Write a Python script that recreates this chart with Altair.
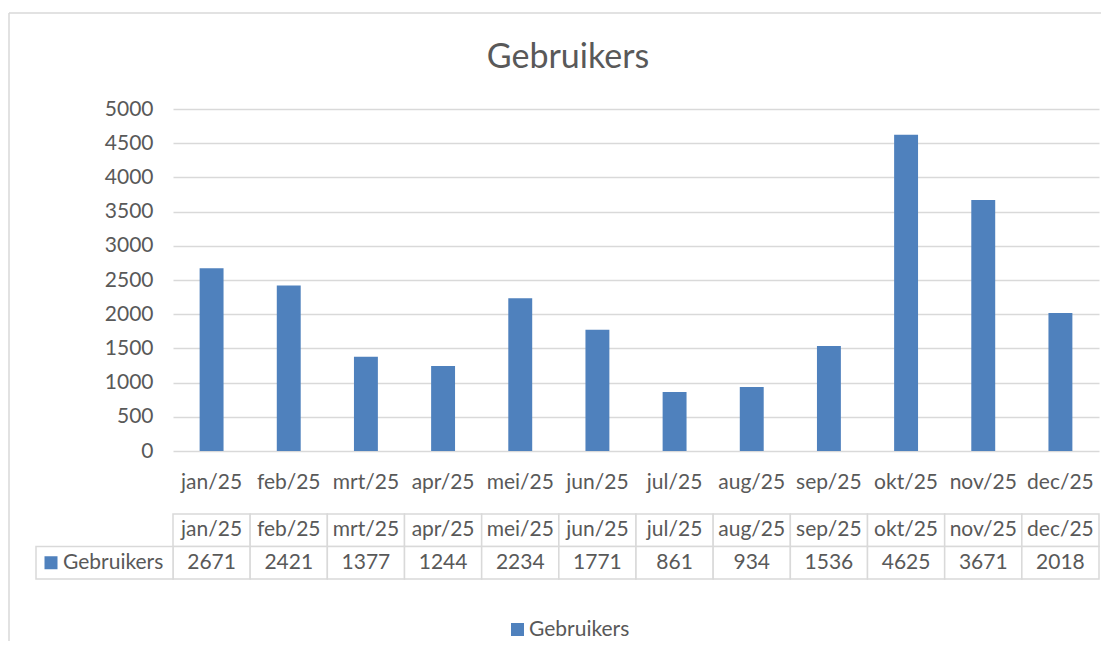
import altair as alt
import pandas as pd

months = ["jan/25", "feb/25", "mrt/25", "apr/25", "mei/25", "jun/25",
          "jul/25", "aug/25", "sep/25", "okt/25", "nov/25", "dec/25"]
users = [2671, 2421, 1377, 1244, 2234, 1771, 861, 934, 1536, 4625, 3671, 2018]
series_name = "Gebruikers"
y_ticks = [0, 500, 1000, 1500, 2000, 2500, 3000, 3500, 4000, 4500, 5000]
row_keys = ["kop", "waarde"]

FONT = "Lato"
TXT = "#595959"
GRID = "#d9d9d9"
FRAME = "#d9d9d9"
BLUE = "#4f81bd"
FS = 21

df = pd.DataFrame({"maand": months, "waarde": users, "reeks": series_name})

tbl = pd.DataFrame({
    "maand": months + months,
    "rij": [row_keys[0]] * len(months) + [row_keys[1]] * len(months),
    "tekst": months + [str(v) for v in users],
})
lbl = pd.DataFrame({"rij": [row_keys[1]], "reeks": [series_name]})


def xscale():
    return alt.Scale(domain=months, paddingInner=0, paddingOuter=0)


color_scale = alt.Scale(domain=[series_name], range=[BLUE])

bars = alt.Chart(df).mark_bar(width=alt.RelativeBandSize(0.31)).encode(
    x=alt.X("maand:N", sort=months, scale=xscale(), title=None,
            axis=alt.Axis(labelAngle=0, domain=False, ticks=False, grid=False,
                          labelPadding=20, labelFontSize=FS, labelFont=FONT,
                          labelColor=TXT)),
    y=alt.Y("waarde:Q", scale=alt.Scale(domain=[0, 5000], nice=False), title=None,
            axis=alt.Axis(values=y_ticks, format="d", domain=False, ticks=False,
                          grid=True, gridColor=GRID, gridWidth=1.5, labelPadding=20,
                          labelFontSize=FS, labelFont=FONT, labelColor=TXT)),
    color=alt.Color("reeks:N", scale=color_scale, legend=None),
).properties(
    width=926, height=342,
    title=alt.TitleParams("Gebruikers", font=FONT, fontSize=34, color=TXT,
                          fontWeight="normal", anchor="middle", frame="group",
                          dx=-68, offset=23),
)

yrow = alt.Y("rij:N", sort=row_keys,
             scale=alt.Scale(domain=row_keys, paddingInner=0, paddingOuter=0),
             axis=None)
xcell = alt.X("maand:N", sort=months, scale=xscale(), axis=None)

cells = alt.Chart(tbl).mark_rect(fill="white", stroke=GRID, strokeWidth=1.5).encode(
    x=xcell, y=yrow)
cell_text = alt.Chart(tbl).mark_text(font=FONT, fontSize=FS, color=TXT).encode(
    x=xcell, y=yrow, text="tekst:N")
label_cell = alt.Chart(lbl).mark_rect(fill="white", stroke=GRID, strokeWidth=1.5).encode(
    x=alt.value(-137), x2=alt.value(0), y=yrow)
label_sq = alt.Chart(lbl).mark_square(size=169, opacity=1).encode(
    x=alt.value(-122), y=yrow,
    color=alt.Color("reeks:N", scale=color_scale,
                    legend=alt.Legend(title=None, orient="none", legendX=334,
                                      legendY=105, symbolType="square",
                                      symbolSize=169, symbolStrokeWidth=0,
                                      symbolOpacity=1,
                                      labelFont=FONT, labelFontSize=FS,
                                      labelColor=TXT, labelOffset=1)))
label_text = alt.Chart(lbl).mark_text(font=FONT, fontSize=FS, color=TXT, align="left").encode(
    x=alt.value(-110), y=yrow, text="reeks:N")
frame_top = alt.Chart(lbl).mark_rule(color=FRAME, strokeWidth=1.5).encode(
    x=alt.value(-164), x2=alt.value(928), y=alt.value(-501))
frame_left = alt.Chart(lbl).mark_rule(color=FRAME, strokeWidth=1.5).encode(
    x=alt.value(-164), y=alt.value(-501), y2=alt.value(127))

table = alt.layer(frame_top, frame_left, cells, cell_text, label_cell, label_sq,
                  label_text).properties(width=926, height=65)

chart = alt.vconcat(bars, table, spacing=63, bounds="flush").resolve_scale(
    x="independent", y="independent", color="independent"
).properties(
    padding={"left": 0, "top": 4, "right": 0, "bottom": 0},
    background="white",
).configure_view(stroke=None)

chart.save("out.html", embed_options={"renderer": "svg", "actions": False})
